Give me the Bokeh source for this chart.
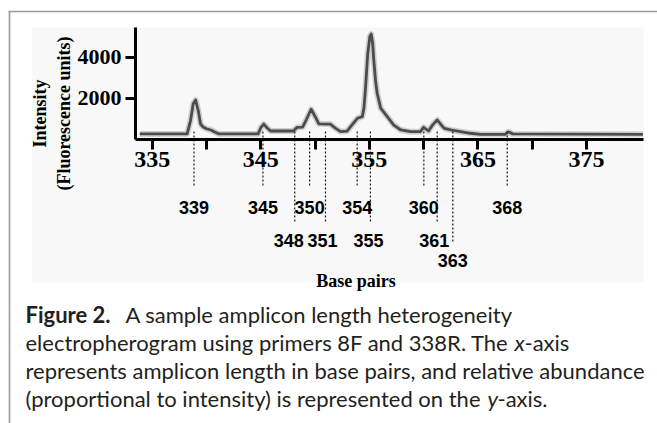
import math
from bokeh.plotting import figure
from bokeh.models import Range1d, FixedTicker
from bokeh.core.properties import value
from bokeh.embed import file_html
from bokeh.resources import INLINE

# ---------------- data ----------------
bp = [333.86, 338.22, 338.53, 338.78, 339.0, 339.24, 339.45, 339.65, 340.0, 340.4,
      340.8, 341.15, 344.75, 345.0, 345.28, 345.55, 345.9, 348.0, 348.35, 348.85,
      349.2, 349.64, 350.0, 350.35, 351.4, 351.9, 352.35, 352.95, 353.5, 353.9,
      354.35, 354.5, 354.65, 354.85, 355.05, 355.17, 355.3, 355.41, 355.57, 355.72,
      356.05, 356.65, 357.25, 357.9, 358.8, 359.7, 360.0, 360.45, 360.85, 361.25,
      361.6, 361.9, 362.5, 363.4, 364.3, 365.25, 367.5, 367.8, 368.2, 380.2]
intensity = [250, 250, 900, 1720, 1900, 1390, 740, 600, 500, 440,
             330, 250, 250, 550, 730, 560, 390, 390, 570, 580,
             950, 1450, 1100, 740, 730, 520, 360, 380, 750, 1010,
             1090, 1500, 2500, 4150, 5000, 5120, 4700, 3850, 2850, 2230,
             1500, 1090, 680, 440, 356, 356, 570, 390, 700, 930,
             700, 520, 440, 356, 280, 230, 230, 350, 250, 230]

x_ticks = [335, 345, 355, 365, 375]
x_minor_ticks = [340, 350, 360, 370]
y_ticks = [2000, 4000]

peak_labels = ["339", "345", "348", "350", "351", "354", "355", "360", "361", "363", "368"]
peak_pos = [338.85, 345.2, 348.13, 349.5, 350.96, 353.88, 355.1, 360.02, 361.25, 362.69, 367.7]
peak_row = [1, 1, 2, 1, 2, 1, 2, 1, 2, 3, 1]

caption_bold = "Figure 2."
caption_lines = [
    "A sample amplicon length heterogeneity",
    "electropherogram using primers 8F and 338R. The",
    "represents amplicon length in base pairs, and relative abundance",
    "(proportional to intensity) is represented on the",
]

# ---------------- page-pixel helpers (layout only) ----------------
X0_PX, PX_PER_BP = 151.7, 10.857
Y0_PX, PX_PER_UNIT = 138.5, 41.0 / 2000.0


def dx(px):
    return 335 + (px - X0_PX) / PX_PER_BP


def dy(py):
    return (Y0_PX - py) / PX_PER_UNIT


W, H = 657, 423
p = figure(width=W, height=H,
           x_range=Range1d(dx(0), dx(W)), y_range=Range1d(dy(H), dy(0)),
           min_border=0, toolbar_location=None, output_backend="svg",
           outline_line_color=None, background_fill_color="white",
           border_fill_color="white")
p.grid.visible = False

# light background of the chart image
p.quad(left=[dx(31.7)], right=[dx(643)], bottom=[dy(282)], top=[dy(26.7)],
       fill_color="#f8f8f8", line_color=None)

# frame lines of the figure box
p.segment(x0=[dx(8), dx(9)], y0=[dy(11), dy(11)], x1=[dx(657), dx(9)], y1=[dy(11), dy(423)],
          line_color="#9a9a9a", line_width=1.6)

# axes
xa = p.xaxis[0]
xa.fixed_location = 0
xa.bounds = (dx(135), dx(643))
xa.ticker = FixedTicker(ticks=x_ticks, minor_ticks=x_minor_ticks)
xa.axis_line_width = 3
xa.axis_line_color = "black"
xa.major_tick_line_width = 3
xa.major_tick_out = 10
xa.major_tick_in = 0
xa.minor_tick_line_width = 3
xa.minor_tick_out = 10
xa.minor_tick_in = 0
xa.major_label_text_font = "Liberation Serif"
xa.major_label_text_font_style = "bold"
xa.major_label_text_font_size = "24px"
xa.major_label_text_color = "black"
xa.major_label_standoff = 3

ya = p.yaxis[0]
ya.fixed_location = dx(135)
ya.bounds = (0, dy(26.7))
ya.ticker = FixedTicker(ticks=y_ticks, minor_ticks=[])
ya.axis_line_width = 3
ya.axis_line_color = "black"
ya.major_tick_line_width = 3
ya.major_tick_out = 10
ya.major_tick_in = 0
ya.minor_tick_line_color = None
ya.major_label_text_font = "Liberation Serif"
ya.major_label_text_font_style = "bold"
ya.major_label_text_font_size = "22px"
ya.major_label_text_color = "black"
ya.major_label_standoff = 4

# trace
p.line(bp, intensity, line_color="#a8a8a8", line_width=6, line_alpha=0.5, line_join="round")
p.line(bp, intensity, line_color="#4c4c4c", line_width=2.8, line_join="round")

# dotted guide lines and peak labels
row_end = {1: dy(185), 2: dy(222), 3: dy(241)}
row_base = {1: dy(206.5), 2: dy(240), 3: dy(260)}
label_shift = {"348": -6, "351": -3, "355": -2, "361": -3}
p.segment(x0=peak_pos, y0=[dy(131)] * len(peak_pos), x1=peak_pos,
          y1=[row_end[r] for r in peak_row],
          line_color="#1a1a1a", line_width=1.2, line_dash="2 2")
p.text(x=peak_pos, y=[row_base[r] for r in peak_row], text=peak_labels,
       x_offset=[label_shift.get(t, 0) for t in peak_labels],
       text_align="center", text_baseline="alphabetic",
       text_font=value("Liberation Sans"), text_font_style="bold",
       text_font_size="18px", text_color="black")

# axis titles
p.text(x=[dx(355.5)], y=[dy(280)], text=["Base pairs"], text_align="center",
       text_baseline="alphabetic", text_font=value("Liberation Serif"),
       text_font_style="bold", text_font_size="18px", text_color="black")
p.text(x=[dx(39), dx(63)], y=[dy(113), dy(113)], text=["Intensity", "(Fluorescence units)"],
       angle=math.pi / 2, text_align="center", text_baseline="middle",
       text_font=value("Liberation Serif"), text_font_style="bold",
       text_font_size="18px", text_color="black")

# caption
cap_font = value("Lato")
cap_size = "22px"
cap_color = "#231f20"
base_y = [314, 342, 370, 397.5]
p.text(x=[dx(25)], y=[dy(base_y[0])], text=[caption_bold], text_font=cap_font,
       text_font_style="bold", text_font_size=cap_size, text_color=cap_color,
       text_baseline="alphabetic")
p.text(x=[dx(125), dx(25), dx(25), dx(25)], y=[dy(b) for b in base_y], text=caption_lines,
       text_font=cap_font, text_font_size=cap_size, text_color=cap_color,
       text_baseline="alphabetic")
p.text(x=[dx(514), dx(487)], y=[dy(base_y[1]), dy(base_y[3])], text=["x", "y"],
       text_font=cap_font, text_font_style="italic", text_font_size=cap_size,
       text_color=cap_color, text_baseline="alphabetic")
p.text(x=[dx(524), dx(497)], y=[dy(base_y[1]), dy(base_y[3])], text=["-axis", "-axis."],
       text_font=cap_font, text_font_size=cap_size, text_color=cap_color,
       text_baseline="alphabetic")

open("out.html", "w").write(file_html(p, INLINE))
